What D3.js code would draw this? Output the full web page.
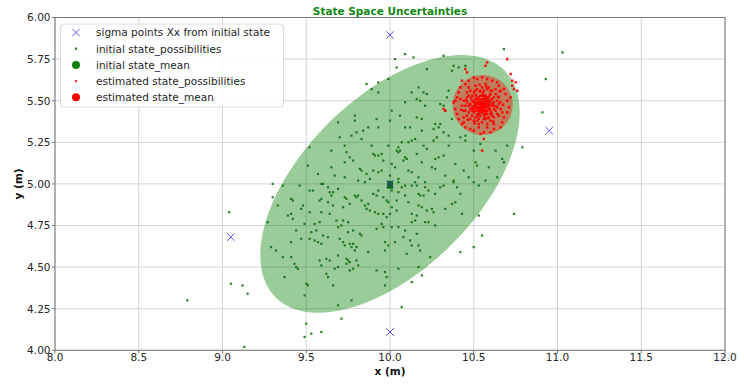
<!DOCTYPE html>
<html>
<head>
<meta charset="utf-8">
<script src="https://cdn.jsdelivr.net/npm/d3@7"></script>
<style>
  html, body { margin: 0; padding: 0; background: #fff; }
  svg { display: block; font-family: "DejaVu Sans", sans-serif; }
</style>
</head>
<body>
<svg id="chart" width="744" height="389"></svg>
<script>
// ---------- data ----------
const xTicks = [8.0, 8.5, 9.0, 9.5, 10.0, 10.5, 11.0, 11.5, 12.0];
const yTicks = [4.00, 4.25, 4.50, 4.75, 5.00, 5.25, 5.50, 5.75, 6.00];

const sigmaPoints = [[10.0, 5.0], [10.95, 5.32], [10.0, 5.895], [9.05, 4.68], [10.0, 4.11]];
const initialMean = [10.0, 4.995];
const estimatedMean = [10.553, 5.474];

// covariance ellipse of the initial state (center, semi-axes, angle in degrees)
const initEllipse = { cx: 10.0, cy: 5.0, a: 0.965, b: 0.518, angle: 45 };
// uncertainty region of the estimated state
const estCircle = { cx: 10.553, cy: 5.474, r: 0.18 };

const initPossibilities = [
 [9.86,5.60],[9.89,5.57],[9.93,5.61],[9.93,5.55],[9.99,5.63],[9.79,5.41],[9.79,5.38],[9.69,5.37],[9.92,5.39],[9.87,5.34],
 [9.93,5.34],[9.84,5.32],[9.80,5.31],[9.77,5.29],[9.70,5.28],[9.83,5.27],[9.73,5.23],[9.89,5.23],[9.52,5.22],[9.65,5.20],
 [9.74,5.19],[9.95,5.18],[9.90,5.18],[9.91,5.17],[9.93,5.17],[9.76,5.16],[9.78,5.14],[9.96,5.14],[9.73,5.13],[9.65,5.10],
 [9.82,5.09],[9.83,5.08],[9.51,5.11],[9.90,5.08],[9.93,5.07],[9.95,5.08],[9.86,5.06],[9.57,5.06],[9.67,5.05],[9.73,5.04],
 [9.81,5.02],[9.88,5.03],[9.85,5.01],[9.59,5.00],
 [10.09,5.78],[10.14,5.76],[10.03,5.75],[10.04,5.70],[10.32,5.77],[10.68,5.81],[10.22,5.69],[10.38,5.71],[10.41,5.70],[10.45,5.71],
 [10.37,5.68],[10.17,5.58],[10.13,5.55],[10.16,5.51],[10.18,5.50],[10.20,5.55],[10.22,5.54],[10.35,5.56],[10.34,5.52],[10.09,5.49],
 [10.21,5.47],[10.30,5.48],[10.32,5.47],[10.33,5.44],[10.01,5.44],[10.06,5.41],[10.16,5.40],[10.19,5.39],[10.00,5.38],[10.27,5.36],
 [10.30,5.36],[10.29,5.34],[10.26,5.33],[10.37,5.39],[10.09,5.34],[10.12,5.34],[10.19,5.32],[10.32,5.31],[10.35,5.29],[10.45,5.29],
 [10.15,5.27],[10.13,5.26],[10.26,5.26],[10.28,5.28],[10.42,5.28],[10.45,5.26],[10.07,5.25],[10.11,5.25],[9.99,5.23],[10.20,5.23],
 [10.22,5.21],[10.05,5.22],[10.06,5.20],[10.04,5.20],[10.05,5.19],[10.54,5.24],[10.70,5.23],[10.35,5.23],[10.79,5.22],[10.63,5.20],
 [10.50,5.20],[10.16,5.18],[10.32,5.17],[10.29,5.16],[10.27,5.15],[10.09,5.16],[10.10,5.15],[10.08,5.14],[10.19,5.13],[10.01,5.12],
 [10.03,5.10],[10.39,5.12],[10.51,5.13],[10.52,5.11],[10.67,5.15],[10.68,5.13],[10.25,5.10],[10.27,5.09],[10.11,5.08],[10.13,5.07],
 [10.44,5.08],[10.00,5.05],[10.17,5.04],[10.33,5.05],[10.47,5.04],[10.05,5.03],[10.59,5.10],[10.64,5.04],[10.57,5.02],[10.38,5.02],
 [9.30,5.00],[9.36,4.99],[9.46,4.99],[9.30,4.92],[9.33,4.87],[9.04,4.83],[9.27,4.77],[9.41,4.91],[9.42,4.90],[9.52,4.96],
 [9.54,4.96],[9.60,5.00],[9.63,4.98],[9.64,4.95],[9.66,4.95],[9.65,4.93],[9.69,4.97],[9.58,4.90],[9.59,4.91],[9.63,4.89],
 [9.66,4.87],[9.48,4.87],[9.47,4.85],[9.52,4.83],[9.39,4.81],[9.41,4.82],[9.42,4.79],[9.73,4.92],[9.74,4.91],[9.76,4.88],
 [9.72,4.86],[9.79,4.93],[9.81,4.93],[9.80,4.92],[9.83,4.90],[9.85,4.87],[9.87,4.88],[9.86,4.85],[9.88,4.84],[9.90,4.94],
 [9.92,4.93],[9.93,4.96],[9.96,4.92],[9.98,4.90],[9.96,4.82],[9.98,4.80],[9.93,4.82],[9.95,4.76],[9.91,4.83],[9.59,4.83],
 [9.64,4.82],[9.68,4.78],[9.72,4.78],[9.75,4.77],[9.49,4.76],[9.55,4.76],[9.58,4.77],[9.69,4.74],[9.71,4.75],[9.44,4.72],
 [9.53,4.71],[9.56,4.72],[9.60,4.69],[9.75,4.71],[9.78,4.72],[9.82,4.70],[9.83,4.69],[9.92,4.73],[9.96,4.74],[9.47,4.67],
 [9.52,4.67],[9.41,4.65],[9.55,4.66],[9.57,4.65],[9.59,4.64],[9.63,4.68],[9.70,4.67],[9.72,4.65],[9.73,4.63],[9.76,4.64],
 [9.78,4.64],[9.77,4.62],[9.79,4.60],[9.80,4.62],[9.29,4.62],[9.32,4.60],[9.36,4.56],[9.41,4.56],[9.87,4.59],[9.97,4.60],
 [9.99,4.63],[9.43,4.52],[9.44,4.50],[9.45,4.49],[9.58,4.54],[9.62,4.55],[9.64,4.54],[9.69,4.57],[9.74,4.55],[9.75,4.54],
 [9.76,4.53],[9.74,4.52],[9.80,4.54],[9.81,4.51],[9.59,4.51],[9.67,4.49],[9.69,4.50],[9.78,4.49],[9.76,4.48],[9.37,4.44],
 [9.62,4.46],[9.63,4.44],[9.92,4.48],[9.97,4.47],[9.98,4.44],[9.50,4.40],[9.51,4.39],[9.66,4.39],[9.49,4.33],[9.77,4.30],
 [9.69,4.27],[9.97,4.39],[9.12,4.39],[9.15,4.34],[9.05,4.40],[9.71,4.19],[9.50,4.16],[9.59,4.11],[9.53,4.10],[9.49,4.08],
 [9.13,4.02],[8.79,4.30],
 [10.05,5.01],[10.07,4.98],[10.09,4.99],[10.13,4.99],[10.15,5.01],[10.16,4.99],[10.21,5.01],[10.21,4.98],[10.23,4.96],[10.27,4.94],
 [10.30,4.98],[10.32,4.99],[10.38,5.01],[10.40,4.98],[10.42,4.94],[10.39,4.89],[10.43,4.82],[10.53,4.99],[10.50,5.01],[10.01,4.96],
 [10.05,4.95],[10.09,4.93],[10.17,4.94],[10.18,4.93],[10.20,4.93],[9.99,4.89],[10.04,4.90],[10.11,4.89],[10.01,4.86],[10.04,4.84],
 [10.00,4.82],[10.17,4.87],[10.19,4.86],[10.22,4.84],[10.25,4.85],[10.26,4.83],[10.33,4.85],[10.37,4.88],[10.13,4.82],[10.16,4.81],
 [10.15,4.78],[10.13,4.77],[10.21,4.77],[10.23,4.77],[10.27,4.75],[10.01,4.74],[10.05,4.74],[10.09,4.72],[10.16,4.70],[10.08,4.68],
 [10.12,4.66],[10.03,4.65],[10.13,4.63],[10.17,4.63],[10.18,4.60],[9.97,4.65],[10.10,4.58],[10.24,4.56],[10.05,4.49],[10.17,4.50],
 [10.53,4.81],[10.74,4.82],[10.55,4.69],[10.50,4.62],[10.42,4.59],[10.19,4.45],[10.13,4.41],[10.07,4.26],
 [11.03,5.79],[10.93,5.63],[10.91,5.43]
];

const estPossibilities = [
 [10.55,5.47],[10.53,5.46],[10.57,5.48],[10.52,5.49],[10.56,5.45],[10.54,5.50],[10.58,5.46],[10.51,5.44],[10.59,5.49],[10.55,5.43],
 [10.53,5.52],[10.57,5.51],[10.50,5.47],[10.60,5.44],[10.54,5.41],[10.56,5.53],[10.52,5.42],[10.58,5.42],[10.49,5.50],[10.61,5.47],
 [10.55,5.49],[10.53,5.48],[10.57,5.44],[10.51,5.51],[10.59,5.52],[10.54,5.45],[10.56,5.47],[10.52,5.46],[10.58,5.50],[10.50,5.43],
 [10.60,5.50],[10.55,5.51],[10.53,5.44],[10.57,5.53],[10.49,5.46],[10.62,5.45],[10.56,5.42],[10.54,5.53],[10.51,5.48],[10.59,5.45],
 [10.52,5.51],[10.58,5.48],[10.50,5.45],[10.61,5.51],[10.55,5.45],[10.53,5.50],[10.57,5.46],[10.48,5.48],[10.60,5.42],[10.54,5.48],
 [10.56,5.49],[10.52,5.44],[10.58,5.52],[10.54,5.43],[10.50,5.49],[10.60,5.48],[10.56,5.51],[10.52,5.48],[10.58,5.44],[10.54,5.46],
 [10.51,5.46],[10.57,5.50],[10.55,5.53],[10.53,5.42],[10.59,5.47],[10.49,5.44],[10.62,5.49],[10.56,5.44],[10.51,5.53],[10.57,5.42],
 [10.545,5.475],[10.565,5.465],[10.535,5.485],[10.575,5.495],[10.525,5.455],[10.555,5.435],[10.585,5.475],[10.515,5.475],[10.545,5.505],[10.565,5.525],
 [10.525,5.515],[10.595,5.455],[10.505,5.495],[10.575,5.435],[10.535,5.435],[10.615,5.485],[10.495,5.455],[10.545,5.445],[10.585,5.505],[10.565,5.405],
 [10.525,5.405],[10.605,5.425],[10.485,5.515],[10.555,5.545],[10.595,5.535],[10.515,5.535],[10.635,5.465],[10.475,5.475],[10.535,5.555],[10.585,5.395],
 [10.47,5.53],[10.45,5.47],[10.46,5.41],[10.50,5.38],[10.55,5.37],[10.60,5.38],[10.64,5.42],[10.65,5.48],[10.63,5.54],[10.58,5.57],
 [10.52,5.57],[10.48,5.56],[10.44,5.50],[10.44,5.44],[10.48,5.39],[10.53,5.36],[10.58,5.36],[10.62,5.40],[10.66,5.45],[10.65,5.52],
 [10.61,5.56],[10.55,5.58],[10.50,5.55],[10.46,5.52],[10.43,5.47],[10.47,5.43],[10.51,5.40],[10.57,5.39],[10.63,5.44],[10.64,5.50],
 [10.60,5.54],[10.56,5.56],[10.49,5.53],[10.45,5.44],[10.52,5.38],[10.61,5.41],[10.66,5.49],[10.59,5.58],[10.47,5.58],[10.42,5.51],
 [10.49,5.41],[10.56,5.39],[10.62,5.47],[10.63,5.57],[10.54,5.56],[10.46,5.49],[10.51,5.59],[10.67,5.43],[10.44,5.40],[10.58,5.34],
 [10.48,5.45],[10.62,5.52],[10.59,5.40],[10.51,5.56],[10.47,5.47],[10.64,5.46],[10.53,5.39],[10.60,5.56],[10.46,5.55],[10.65,5.41],
 [10.455,5.505],[10.645,5.525],[10.505,5.365],[10.575,5.585],[10.425,5.445],[10.675,5.475],[10.535,5.595],[10.615,5.375],[10.465,5.385],[10.655,5.555],
 [10.42,5.58],[10.40,5.52],[10.39,5.45],[10.41,5.39],[10.45,5.34],[10.50,5.32],[10.56,5.31],[10.62,5.33],[10.67,5.37],[10.70,5.43],
 [10.70,5.50],[10.68,5.57],[10.64,5.61],[10.58,5.63],[10.52,5.63],[10.47,5.62],[10.43,5.62],[10.38,5.49],[10.40,5.42],[10.48,5.33],
 [10.54,5.30],[10.60,5.31],[10.66,5.34],[10.71,5.46],[10.69,5.54],[10.61,5.62],[10.55,5.64],[10.45,5.60],[10.41,5.55],[10.43,5.36],
 [10.65,5.59],[10.68,5.40],[10.53,5.34],[10.39,5.50],[10.72,5.52],[10.50,5.64],[10.57,5.60],[10.44,5.37],[10.62,5.36],[10.66,5.56],
 [10.58,5.73],[10.57,5.71],[10.45,5.69],[10.46,5.67],[10.72,5.66],[10.73,5.62],[10.75,5.61],[10.76,5.56],[10.74,5.57],[10.73,5.59],
 [10.32,5.45],[10.33,5.44],[10.70,5.75],[10.55,5.20],[10.56,5.27]
];

// ---------- layout ----------
const W = 744, H = 389;
const m = { left: 55, right: 19, top: 17.5, bottom: 38.7 };
const svg = d3.select("#chart");
const x = d3.scaleLinear().domain([8, 12]).range([m.left, W - m.right]);
const y = d3.scaleLinear().domain([4, 6]).range([H - m.bottom, m.top]);

// grid
const g = svg.append("g");
g.selectAll(".gx").data(xTicks).enter().append("line")
  .attr("x1", d => x(d)).attr("x2", d => x(d))
  .attr("y1", y(4)).attr("y2", y(6))
  .attr("stroke", "#d0d0d0").attr("stroke-width", 0.9);
g.selectAll(".gy").data(yTicks).enter().append("line")
  .attr("y1", d => y(d)).attr("y2", d => y(d))
  .attr("x1", x(8)).attr("x2", x(12))
  .attr("stroke", "#d0d0d0").attr("stroke-width", 0.9);

// clip to axes
svg.append("clipPath").attr("id", "clip").append("rect")
  .attr("x", x(8)).attr("y", y(6)).attr("width", x(12) - x(8)).attr("height", y(4) - y(6));
const plot = svg.append("g").attr("clip-path", "url(#clip)");

// initial covariance ellipse
const th = initEllipse.angle * Math.PI / 180;
const ellPts = d3.range(0, 361, 3).map(t => {
  const r = t * Math.PI / 180;
  const ex = initEllipse.a * Math.cos(r), ey = initEllipse.b * Math.sin(r);
  return [x(initEllipse.cx + ex * Math.cos(th) - ey * Math.sin(th)),
          y(initEllipse.cy + ex * Math.sin(th) + ey * Math.cos(th))];
});
plot.append("path").attr("d", d3.line()(ellPts) + "Z")
  .attr("fill", "rgb(0,128,0)").attr("fill-opacity", 0.4);

// initial possibilities
const ps = 2.2;
plot.selectAll(".ip").data(initPossibilities).enter().append("rect")
  .attr("x", d => x(d[0]) - ps / 2).attr("y", d => y(d[1]) - ps / 2)
  .attr("width", ps).attr("height", ps)
  .attr("fill", "#0b6b0b").attr("fill-opacity", 0.85);

// initial mean
plot.append("rect")
  .attr("x", x(initialMean[0]) - 3).attr("y", y(initialMean[1]) - 4)
  .attr("width", 6).attr("height", 8).attr("fill", "#0a700a");

// estimated region
plot.append("ellipse")
  .attr("cx", x(estCircle.cx)).attr("cy", y(estCircle.cy))
  .attr("rx", x(estCircle.cx + estCircle.r) - x(estCircle.cx))
  .attr("ry", y(estCircle.cy) - y(estCircle.cy + estCircle.r))
  .attr("fill", "rgb(255,0,0)").attr("fill-opacity", 0.38);

// estimated possibilities
const rs = 2.5;
plot.selectAll(".ep").data(estPossibilities).enter().append("rect")
  .attr("x", d => x(d[0]) - rs / 2).attr("y", d => y(d[1]) - rs / 2)
  .attr("width", rs).attr("height", rs)
  .attr("fill", "#ff0000").attr("fill-opacity", 0.9);

// estimated mean
plot.append("circle").attr("cx", x(estimatedMean[0])).attr("cy", y(estimatedMean[1]))
  .attr("r", 3.5).attr("fill", "#ff0000");

// sigma points
const xs = 3.8;
const sig = plot.selectAll(".sg").data(sigmaPoints).enter().append("g")
  .attr("transform", d => `translate(${x(d[0])},${y(d[1])})`);
sig.append("path").attr("d", `M${-xs},${-xs}L${xs},${xs}M${-xs},${xs}L${xs},${-xs}`)
  .attr("stroke", "#3a3ae0").attr("stroke-opacity", 0.85).attr("stroke-width", 1);

// axes frame
svg.append("rect").attr("x", x(8)).attr("y", y(6))
  .attr("width", x(12) - x(8)).attr("height", y(4) - y(6))
  .attr("fill", "none").attr("stroke", "#777").attr("stroke-width", 1);

// ticks + labels
const fs = "10.5px";
const xa = svg.append("g");
xa.selectAll("line").data(xTicks).enter().append("line")
  .attr("x1", d => x(d)).attr("x2", d => x(d)).attr("y1", y(4)).attr("y2", y(4) + 3)
  .attr("stroke", "#777");
xa.selectAll("text").data(xTicks).enter().append("text")
  .attr("x", d => x(d)).attr("y", y(4) + 10.3)
  .attr("text-anchor", "middle").attr("font-size", fs).attr("fill", "#262626")
  .text(d => d3.format(".1f")(d));
const ya = svg.append("g");
ya.selectAll("line").data(yTicks).enter().append("line")
  .attr("x1", x(8) - 3).attr("x2", x(8)).attr("y1", d => y(d)).attr("y2", d => y(d))
  .attr("stroke", "#777");
ya.selectAll("text").data(yTicks).enter().append("text")
  .attr("x", x(8) - 4.5).attr("y", d => y(d) + 3.8)
  .attr("text-anchor", "end").attr("font-size", fs).attr("fill", "#262626")
  .text(d => d3.format(".2f")(d));

// axis titles
svg.append("text").attr("x", (x(8) + x(12)) / 2).attr("y", 375)
  .attr("text-anchor", "middle").attr("font-size", fs).attr("font-weight", "bold")
  .attr("fill", "#111").text("x (m)");
svg.append("text").attr("transform", `translate(22,${(y(4) + y(6)) / 2}) rotate(-90)`)
  .attr("text-anchor", "middle").attr("font-size", fs).attr("font-weight", "bold")
  .attr("fill", "#111").text("y (m)");

// title
svg.append("text").attr("x", (x(8) + x(12)) / 2).attr("y", 14.5)
  .attr("text-anchor", "middle").attr("font-size", fs).attr("font-weight", "bold")
  .attr("fill", "#118811").text("State Space Uncertainties");

// legend
const legendItems = [
  { label: "sigma points Xx from initial state", kind: "x" },
  { label: "initial state_possibilities", kind: "gdot" },
  { label: "initial state_mean", kind: "gbig" },
  { label: "estimated state_possibilities", kind: "rdot" },
  { label: "estimated state_mean", kind: "rbig" }
];
const lg = svg.append("g");
lg.append("rect").attr("x", 60.5).attr("y", 24).attr("width", 223).attr("height", 83)
  .attr("rx", 3).attr("fill", "#fff").attr("fill-opacity", 0.85)
  .attr("stroke", "#dcdcdc").attr("stroke-width", 1);
const rowY = i => 32.5 + i * 16.2;
legendItems.forEach((it, i) => {
  const cy = rowY(i), cx = 76;
  if (it.kind === "x") {
    lg.append("path").attr("d", `M${cx - 3.5},${cy - 3.5}L${cx + 3.5},${cy + 3.5}M${cx - 3.5},${cy + 3.5}L${cx + 3.5},${cy - 3.5}`)
      .attr("stroke", "#3a3ae0").attr("stroke-opacity", 0.85).attr("stroke-width", 1);
  } else if (it.kind === "gdot") {
    lg.append("rect").attr("x", cx - 1.1).attr("y", cy - 1.1).attr("width", 2.2).attr("height", 2.2).attr("fill", "#1a8a1a");
  } else if (it.kind === "gbig") {
    lg.append("circle").attr("cx", cx).attr("cy", cy).attr("r", 4).attr("fill", "#0a800a");
  } else if (it.kind === "rdot") {
    lg.append("rect").attr("x", cx - 1.1).attr("y", cy - 1.1).attr("width", 2.2).attr("height", 2.2).attr("fill", "#ff3333");
  } else {
    lg.append("circle").attr("cx", cx).attr("cy", cy).attr("r", 4).attr("fill", "#ff0000");
  }
  lg.append("text").attr("x", 96).attr("y", cy + 3.8).attr("font-size", fs).attr("fill", "#262626").text(it.label);
});
</script>
</body>
</html>
